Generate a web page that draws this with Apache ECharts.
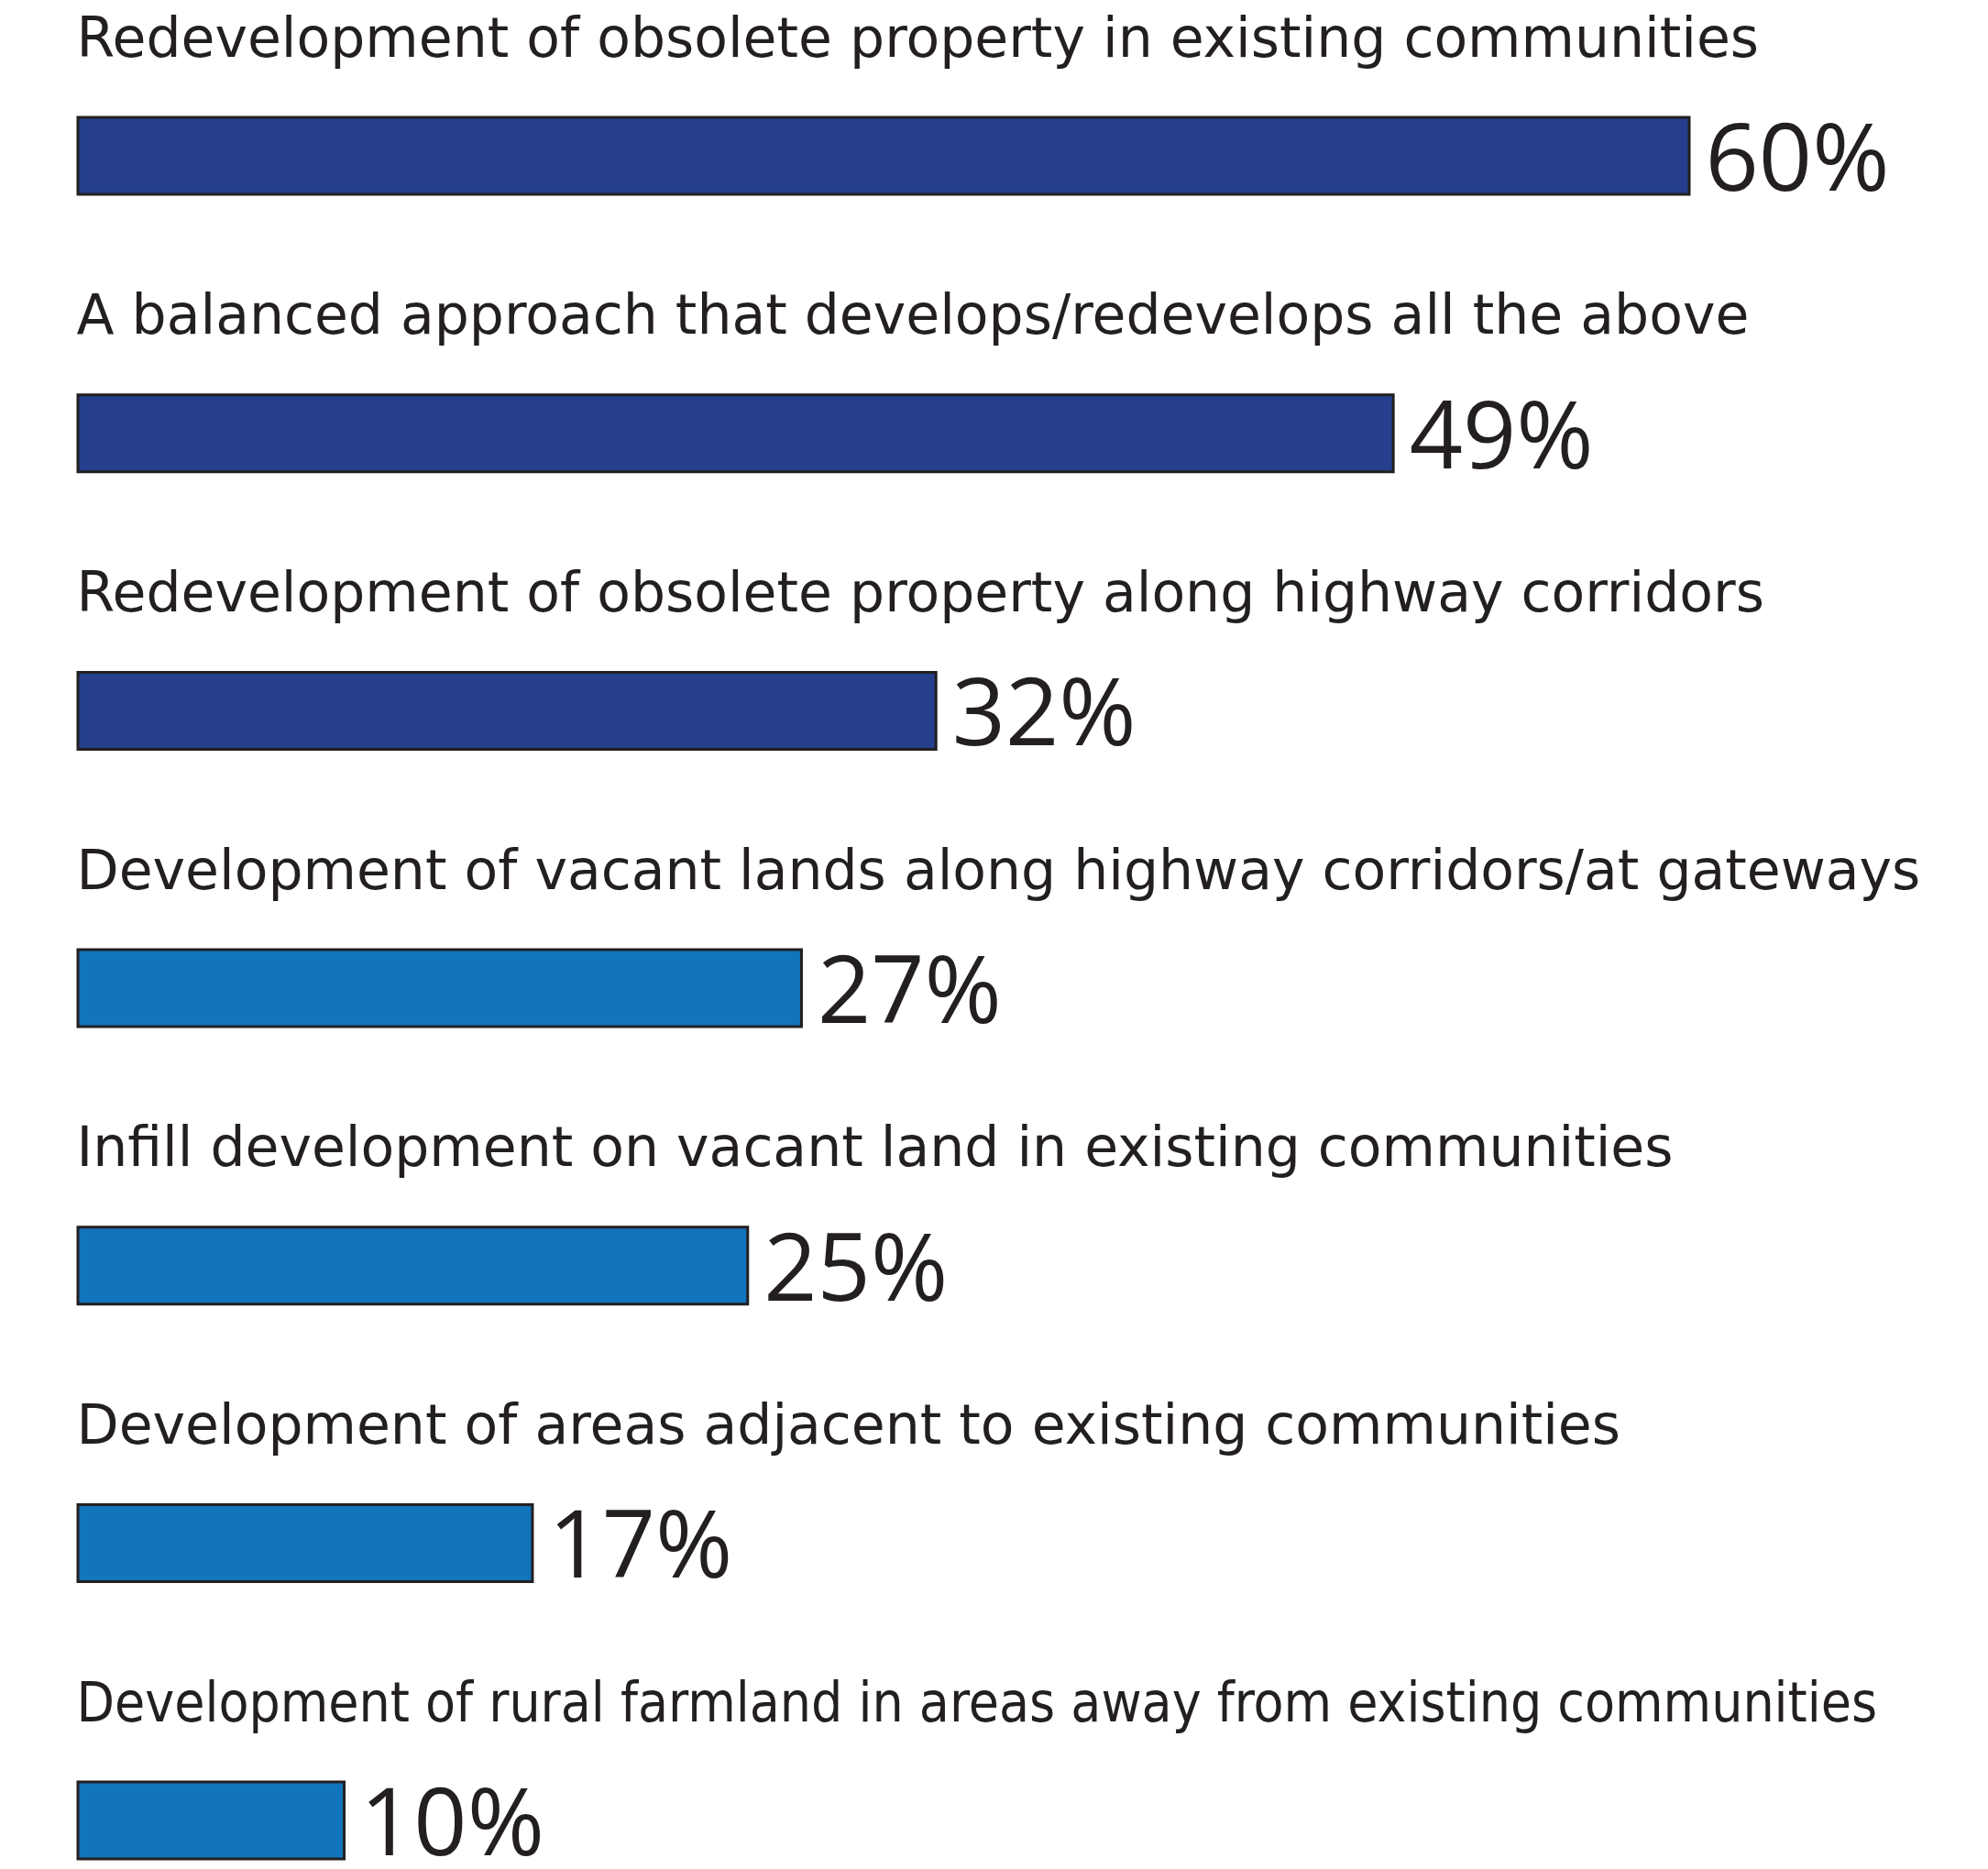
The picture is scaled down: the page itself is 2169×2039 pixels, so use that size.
<!DOCTYPE html>
<html>
<head>
<meta charset="utf-8">
<title>Preferred development approaches</title>
<script src="https://cdn.jsdelivr.net/npm/echarts@6/dist/echarts.min.js"></script>
<style>
  html, body { margin: 0; padding: 0; background: #ffffff; }
  #chart { width: 2169px; height: 2039px; }
</style>
</head>
<body>
<div id="chart"></div>
<script>
// Survey answers, listed top to bottom
const categories = [
  'Redevelopment of obsolete property in existing communities',
  'A balanced approach that develops/redevelops all the above',
  'Redevelopment of obsolete property along highway corridors',
  'Development of vacant lands along highway corridors/at gateways',
  'Infill development on vacant land in existing communities',
  'Development of areas adjacent to existing communities',
  'Development of rural farmland in areas away from existing communities'
];
// Share of respondents (%)
const values = [60, 49, 32, 27, 25, 17, 10];

const NAVY = '#253f8c';
const BLUE = '#1274bb';
const INK = '#231f20';
const LABEL_FONT = '"DejaVu Sans", "Open Sans", sans-serif';
const TIGHT_FONT = '"DejaVu Sans Condensed", "DejaVu Sans", sans-serif';
const VALUE_FONT = '"Open Sans", Lato, sans-serif';

// the first three answers (redevelopment / balanced) are drawn in navy
const redevelopCount = 3;
// the longest answer is set in a condensed cut so it fits the page
const longest = categories.reduce((a, b) => (b.length > a.length ? b : a));

const chart = echarts.init(document.getElementById('chart'), null, { renderer: 'canvas' });

chart.setOption({
  backgroundColor: '#ffffff',
  animation: false,
  grid: {
    left: 83.5, top: 18.7, width: 1761, height: 2118.7,
    containLabel: false,
    outerBoundsMode: 'none'
  },
  xAxis: {
    type: 'value',
    min: 0,
    max: 60,
    show: false
  },
  yAxis: {
    type: 'category',
    data: categories,
    inverse: true,
    axisLine: { show: false },
    axisTick: { show: false },
    splitLine: { show: false },
    axisLabel: {
      inside: true,
      interval: 0,
      margin: 0,
      align: 'left',
      verticalAlign: 'bottom',
      fontFamily: LABEL_FONT,
      fontSize: 60,
      lineHeight: 60,
      color: INK,
      padding: [0, 0, 94, 0],
      formatter: v => (v === longest ? '{tight|' + v + '}' : v),
      rich: {
        tight: {
          fontFamily: TIGHT_FONT,
          fontSize: 60,
          lineHeight: 60,
          color: INK
        }
      }
    }
  },
  series: [{
    type: 'bar',
    data: values,
    barWidth: 87,
    clip: false,
    itemStyle: {
      color: p => (p.dataIndex < redevelopCount ? NAVY : BLUE),
      borderColor: INK,
      borderWidth: 3
    },
    label: {
      show: true,
      position: 'right',
      distance: 16,
      formatter: p => p.value + '%',
      fontFamily: VALUE_FONT,
      fontSize: 102,
      color: INK,
      offset: [0, 9]
    }
  }]
});
</script>
</body>
</html>
